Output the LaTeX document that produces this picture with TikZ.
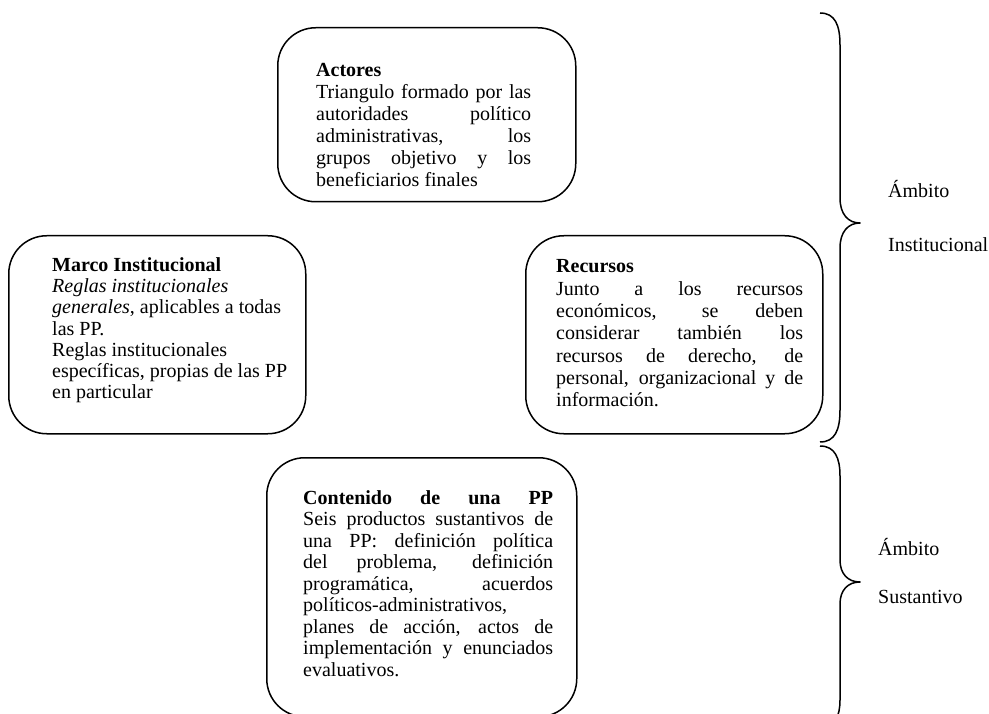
\documentclass[tikz,border=0pt]{standalone}
\usepackage{fontspec}
\setmainfont{Liberation Serif}
\newcommand\JL[1]{\makebox[\linewidth][s]{#1}\par}
\newcommand\NL[1]{\mbox{#1}\par}
\begin{document}
\begin{tikzpicture}[x=1pt,y=-1pt,
  box/.style={draw, line width=1.5pt, rounded corners=38pt, anchor=north west, inner sep=0pt},
  txt/.style={anchor=base west, inner sep=0pt, font=\fontsize{20}{#1}\selectfont},
  txt/.default=21.5,
  lbl/.style={anchor=base west, inner sep=0pt, font=\fontsize{20}{24}\selectfont},
  bracestyle/.style={line width=1.5pt, line join=round}]
\clip (0,0) rectangle (989,714);
\fill[white] (0,0) rectangle (989,714);

% boxes
\node[box, minimum width=298pt, minimum height=174pt] (actoresbox) at (277,27) {};
\node[box, minimum width=297pt, minimum height=198pt] (marcobox) at (8,235) {};
\node[box, minimum width=297pt, minimum height=198pt] (recursosbox) at (525,235) {};
\node[box, minimum width=310pt, minimum height=259pt] (contenidobox) at (266,457) {};

% texts
\node[txt=22] (actorestxt) at (316,77) {\parbox[t]{215pt}{\parskip=0pt
\NL{\textbf{Actores}}
\JL{Triangulo formado por las}
\JL{autoridades político}
\JL{administrativas, los}
\JL{grupos objetivo y los}
\NL{beneficiarios finales}}};

\node[txt=21.2] (marcotxt) at (52,271.5) {\parbox[t]{250pt}{\parskip=0pt
\NL{\textbf{Marco Institucional}}
\NL{\textit{Reglas institucionales}}
\NL{\textit{generales}, aplicables a todas}
\NL{las PP.}
\NL{Reglas institucionales}
\NL{específicas, propias de las PP}
\NL{en particular}}};

\node[txt=22.3] (recursostxt) at (556,273) {\parbox[t]{247pt}{\parskip=0pt
\NL{\textbf{Recursos}}
\JL{Junto a los recursos}
\JL{económicos, se deben}
\JL{considerar también los}
\JL{recursos de derecho, de}
\JL{personal, organizacional y de}
\NL{información.}}};

\node[txt=21.5] (contenidotxt) at (303,504) {\parbox[t]{250pt}{\parskip=0pt
\JL{\textbf{Contenido de una PP}}
\JL{Seis productos sustantivos de}
\JL{una PP: definición política}
\JL{del problema, definición}
\JL{programática, acuerdos}
\NL{políticos-administrativos,}
\JL{planes de acción, actos de}
\JL{implementación y enunciados}
\NL{evaluativos.}}};

% braces
\draw[bracestyle] (820,13) .. controls (835,13) and (840,25) .. (840,45)
  -- (840,198) .. controls (840,214) and (848,223) .. (860,223)
  .. controls (848,223) and (840,232) .. (840,248)
  -- (840,410) .. controls (840,430) and (835,442) .. (820,442);
\draw[bracestyle] (820,446) .. controls (835,446) and (840,458) .. (840,476)
  -- (840,560) .. controls (840,574) and (848,582) .. (860,582)
  .. controls (848,582) and (840,590) .. (840,604)
  -- (840,700) .. controls (840,716) and (835,728) .. (820,728);

% labels
\node[lbl] (ambitoinst) at (888,198) {Ámbito};
\node[lbl] (institucional) at (888,252) {Institucional};
\node[lbl] (ambitosust) at (878,555) {Ámbito};
\node[lbl] (sustantivo) at (878,603) {Sustantivo};
\end{tikzpicture}
\end{document}
